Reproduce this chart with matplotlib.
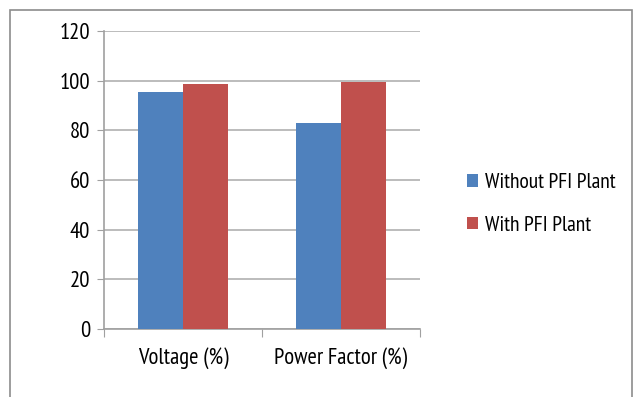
import matplotlib
matplotlib.use("Agg")
import matplotlib.pyplot as plt
from matplotlib.patches import Rectangle
import numpy as np

categories = ["Voltage (%)", "Power Factor (%)"]
without_pfi = [95.5, 83.0]
with_pfi = [98.5, 99.4]
series_names = ["Without PFI Plant", "With PFI Plant"]
yticks = [0, 20, 40, 60, 80, 100, 120]

plt.rcParams['font.family'] = ['PT Sans Narrow', 'Archivo Narrow', 'DejaVu Sans']

FS = 16.3
fig = plt.figure(figsize=(6.35, 3.97), dpi=100)
fig.patches.append(Rectangle((10/635, -0.1), (632-10)/635, 1.1 - 10/397, transform=fig.transFigure,
                             fill=False, edgecolor='#8c8c8c', linewidth=1.2))
ax = fig.add_axes([104/635, 1-329/397, (420-104)/635, (329-31)/397])

x = np.arange(len(categories))
w = 0.285
b1 = ax.bar(x - w/2, without_pfi, w, color='#4F81BD', label=series_names[0], zorder=3)
b2 = ax.bar(x + w/2, with_pfi, w, color='#C0504D', label=series_names[1], zorder=3)

ax.set_xlim(-0.5, len(categories) - 0.5)
ax.set_ylim(0, 120)
ax.set_yticks(yticks)
ax.set_yticklabels([str(v) for v in yticks], fontsize=FS)
ax.yaxis.grid(True, color='#b0b0b0', linewidth=1.2, zorder=0)
ax.set_axisbelow(True)

ax.set_xticks(np.arange(len(categories) + 1) - 0.5)
ax.set_xticklabels([])
ax.set_xticks(x, minor=True)
ax.set_xticklabels(categories, minor=True, fontsize=FS)
ax.tick_params(axis='x', which='minor', length=0, pad=13)
ax.tick_params(axis='x', which='major', length=6, color='#a0a0a0', direction='out')
ax.tick_params(axis='y', length=5, color='#a0a0a0', direction='out', pad=5)

for s in ['top', 'right']:
    ax.spines[s].set_visible(False)
for s in ['left', 'bottom']:
    ax.spines[s].set_color('#a0a0a0')
    ax.spines[s].set_linewidth(1.2)

fig.legend(handles=[b1, b2], labels=series_names, loc='center left',
           bbox_to_anchor=(448/635, 1-204/397), frameon=False, fontsize=15.5,
           handlelength=0.5, handleheight=0.5, handletextpad=0.3, labelspacing=1.1)

fig.savefig("out.png", dpi=100)
